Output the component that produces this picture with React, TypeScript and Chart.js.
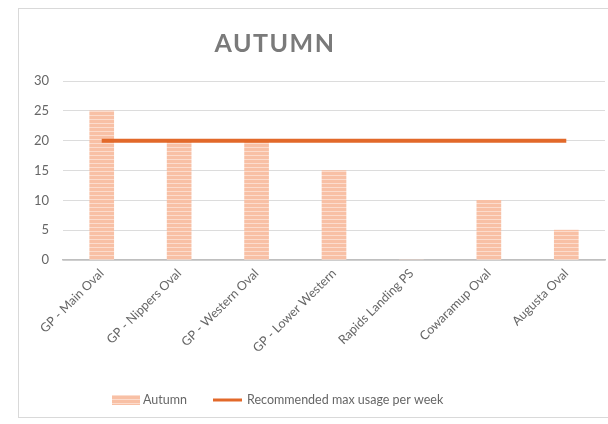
import React, { useEffect, useRef } from "react";
import { Chart, registerables } from "chart.js";

Chart.register(...registerables);

// Venues and weekly autumn usage
const venues = [
  "GP - Main Oval",
  "GP - Nippers Oval",
  "GP - Western Oval",
  "GP - Lower Western",
  "Rapids Landing PS",
  "Cowaramup Oval",
  "Augusta Oval",
];
const autumnUsage = [25, 20, 20, 15, 0, 10, 5];
const recommendedMax = [20, 20, 20, 20, 20, 20, 20];
const yTicks = [0, 5, 10, 15, 20, 25, 30];

const chartTitle = "AUTUMN";
const barLabel = "Autumn";
const lineLabel = "Recommended max usage per week";

const FONT = "Lato, 'Open Sans', sans-serif";
const LINE_COLOR = "#E2692A";

function makeStripePattern(): CanvasPattern | string {
  const c = document.createElement("canvas");
  c.width = 4;
  c.height = 4;
  const g = c.getContext("2d");
  if (!g) return "#F8C4AB";
  g.fillStyle = "#F8C0A5";
  g.fillRect(0, 0, 4, 4);
  g.fillStyle = "#FCDCCD";
  g.fillRect(0, 3, 4, 1);
  return g.createPattern(c, "repeat") || "#F8C4AB";
}

export default function App() {
  const canvasRef = useRef<HTMLCanvasElement | null>(null);

  useEffect(() => {
    const canvas = canvasRef.current;
    if (!canvas) return;
    const stripes = makeStripePattern();

    // Frame, title and legend drawn around the plot
    const decorations = {
      id: "decorations",
      beforeDraw(chart: any) {
        const ctx = chart.ctx;
        ctx.save();
        ctx.fillStyle = "#ffffff";
        ctx.fillRect(0, 0, chart.width, chart.height);
        ctx.strokeStyle = "#d9d9d9";
        ctx.lineWidth = 1;
        ctx.strokeRect(18.5, 8.5, 620, 409);
        ctx.restore();
      },
      afterDraw(chart: any) {
        const ctx = chart.ctx;
        ctx.save();
        // title
        ctx.fillStyle = "#7a7a7a";
        ctx.font = `bold 25px ${FONT}`;
        (ctx as any).letterSpacing = "1.5px";
        ctx.textAlign = "center";
        ctx.textBaseline = "alphabetic";
        ctx.fillText(chartTitle, 275, 52);
        (ctx as any).letterSpacing = "0px";

        // legend
        const ly = 400;
        ctx.fillStyle = stripes as any;
        ctx.fillRect(112, ly - 5, 28, 10);
        ctx.strokeStyle = LINE_COLOR;
        ctx.lineWidth = 3;
        ctx.beginPath();
        ctx.moveTo(213, ly);
        ctx.lineTo(242, ly);
        ctx.stroke();
        ctx.fillStyle = "#666666";
        ctx.font = `12.5px ${FONT}`;
        ctx.textAlign = "left";
        ctx.textBaseline = "middle";
        ctx.fillText(barLabel, 143, ly);
        ctx.fillText(lineLabel, 247, ly);
        ctx.restore();
      },
    };

    const chart = new Chart(canvas, {
      type: "bar",
      data: {
        labels: venues,
        datasets: [
          {
            type: "line",
            label: lineLabel,
            data: recommendedMax,
            borderColor: LINE_COLOR,
            backgroundColor: LINE_COLOR,
            borderWidth: 4,
            pointRadius: 0,
            tension: 0,
            order: 0,
          } as any,
          {
            type: "bar",
            label: barLabel,
            data: autumnUsage,
            backgroundColor: stripes as any,
            borderWidth: 0,
            barThickness: 24,
            order: 1,
          },
        ],
      },
      options: {
        responsive: false,
        animation: false,
        layout: { padding: { left: 0, right: 3, top: 81, bottom: 0 } },
        plugins: {
          legend: { display: false },
          title: { display: false },
          tooltip: { enabled: false },
        },
        scales: {
          x: {
            grid: { display: false, drawTicks: false },
            border: { display: true, color: "#bfbfbf", width: 1.5 },
            ticks: {
              color: "#666666",
              font: { family: FONT, size: 12.5 },
              maxRotation: 45,
              minRotation: 45,
              padding: 6,
              autoSkip: false,
            },
            afterFit(scale: any) {
              scale.height = 164;
            },
          },
          y: {
            min: 0,
            max: 30,
            afterBuildTicks(scale: any) {
              scale.ticks = yTicks.map((v) => ({ value: v }));
            },
            grid: { color: "#dcdcdc", lineWidth: 1, drawTicks: false },
            border: { display: false },
            ticks: {
              color: "#666666",
              font: { family: FONT, size: 13 },
              padding: 14,
            },
            afterFit(scale: any) {
              scale.width = 63;
            },
          },
        },
      },
      plugins: [decorations],
    });

    return () => chart.destroy();
  }, []);

  return (
    <div style={{ position: "absolute", left: 0, top: 0, width: 608, height: 424, background: "#fff" }}>
      <canvas ref={canvasRef} width={608} height={424} style={{ display: "block" }} />
    </div>
  );
}
